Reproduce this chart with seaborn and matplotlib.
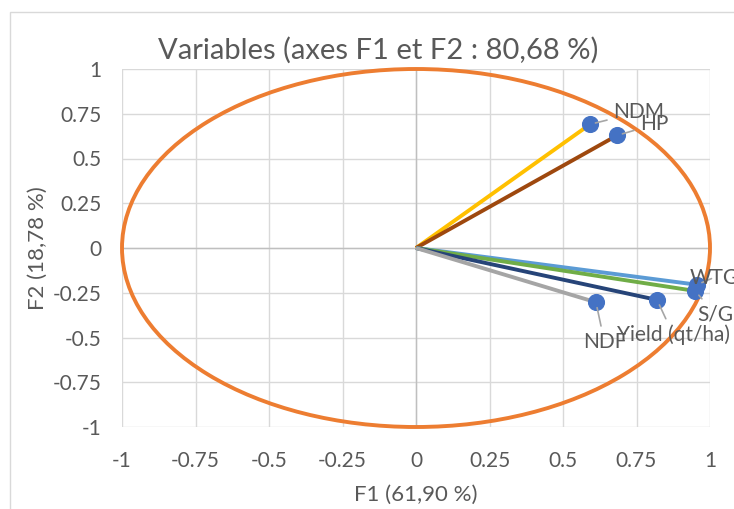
import numpy as np
import pandas as pd
import matplotlib.pyplot as plt
import matplotlib.patches as mpatches
import seaborn as sns

# PCA loadings
variables = ["NDM", "HP", "WTG", "S/G", "Yield (qt/ha)", "NDF"]
f1 = [0.592, 0.684, 0.955, 0.950, 0.820, 0.612]
f2 = [0.691, 0.629, -0.205, -0.240, -0.290, -0.303]
line_colors = ["#FFC000", "#9E480E", "#5B9BD5", "#70AD47", "#264478", "#A5A5A5"]
ticks = [-1, -0.75, -0.5, -0.25, 0, 0.25, 0.5, 0.75, 1]
tick_labels = ["-1", "-0.75", "-0.5", "-0.25", "0", "0.25", "0.5", "0.75", "1"]

# label placement (text position) for each variable
label_xy = [(0.67, 0.758), (0.762, 0.690), (0.930, -0.165), (0.955, -0.370),
            (0.683, -0.485), (0.567, -0.525)]

df = pd.DataFrame({"variable": variables, "F1": f1, "F2": f2})

sns.set_theme(style="white")
plt.rcParams['font.family'] = ['Lato', 'DejaVu Sans']
txt = "#595959"

fig = plt.figure(figsize=(7.34, 5.09), dpi=100)
ax = fig.add_axes([122/734, 1 - 427/509, 588/734, 358/509])

# chart frame
fig.patches.append(mpatches.Rectangle((10/734, -0.1), 1.2, 1 - 12/509 + 0.1,
                                      transform=fig.transFigure, fill=False,
                                      edgecolor="#D9D9D9", lw=1, zorder=0))

ax.set_xlim(-1, 1)
ax.set_ylim(-1, 1)
ax.set_xticks(ticks)
ax.set_yticks(ticks)
ax.grid(True, color="#D9D9D9", lw=1)
ax.set_axisbelow(True)
for s in ax.spines.values():
    s.set_visible(False)
ax.axhline(0, color="#BFBFBF", lw=1, zorder=1)
ax.axvline(0, color="#BFBFBF", lw=1, zorder=1)

# correlation circle
ax.add_patch(mpatches.Ellipse((0, 0), 2, 2, fill=False, edgecolor="#ED7D31",
                              lw=2.8, zorder=2, clip_on=False))

for x, y, c in zip(f1, f2, line_colors):
    ax.plot([0, x], [0, y], color=c, lw=2.8, zorder=3, solid_capstyle="butt")

sns.scatterplot(data=df, x="F1", y="F2", s=130, color="#4472C4",
                edgecolor="#4472C4", zorder=4, ax=ax, clip_on=False)

for name, x, y, (tx, ty) in zip(variables, f1, f2, label_xy):
    ax.annotate(name, xy=(x, y), xytext=(tx, ty), fontsize=15, color=txt,
                va="center", ha="left", zorder=6, annotation_clip=False,
                arrowprops=dict(arrowstyle="-", color="#A6A6A6", lw=1.2,
                                shrinkA=2, shrinkB=4))

ax.set_xticklabels(tick_labels)
ax.set_yticklabels(tick_labels)
ax.tick_params(axis="x", labelsize=15, colors=txt, length=0, pad=17)
ax.tick_params(axis="y", labelsize=15, colors=txt, length=0, pad=15)
ax.set_xlabel("F1 (61,90 %)", fontsize=16, color=txt, labelpad=10)
ax.set_ylabel("F2 (18,78 %)", fontsize=16, color=txt, labelpad=3)

fig.text(378/734, 1 - 50/509, "Variables (axes F1 et F2 : 80,68 %)",
         fontsize=21, color=txt, ha="center", va="center")

fig.savefig("out.png", dpi=100)
